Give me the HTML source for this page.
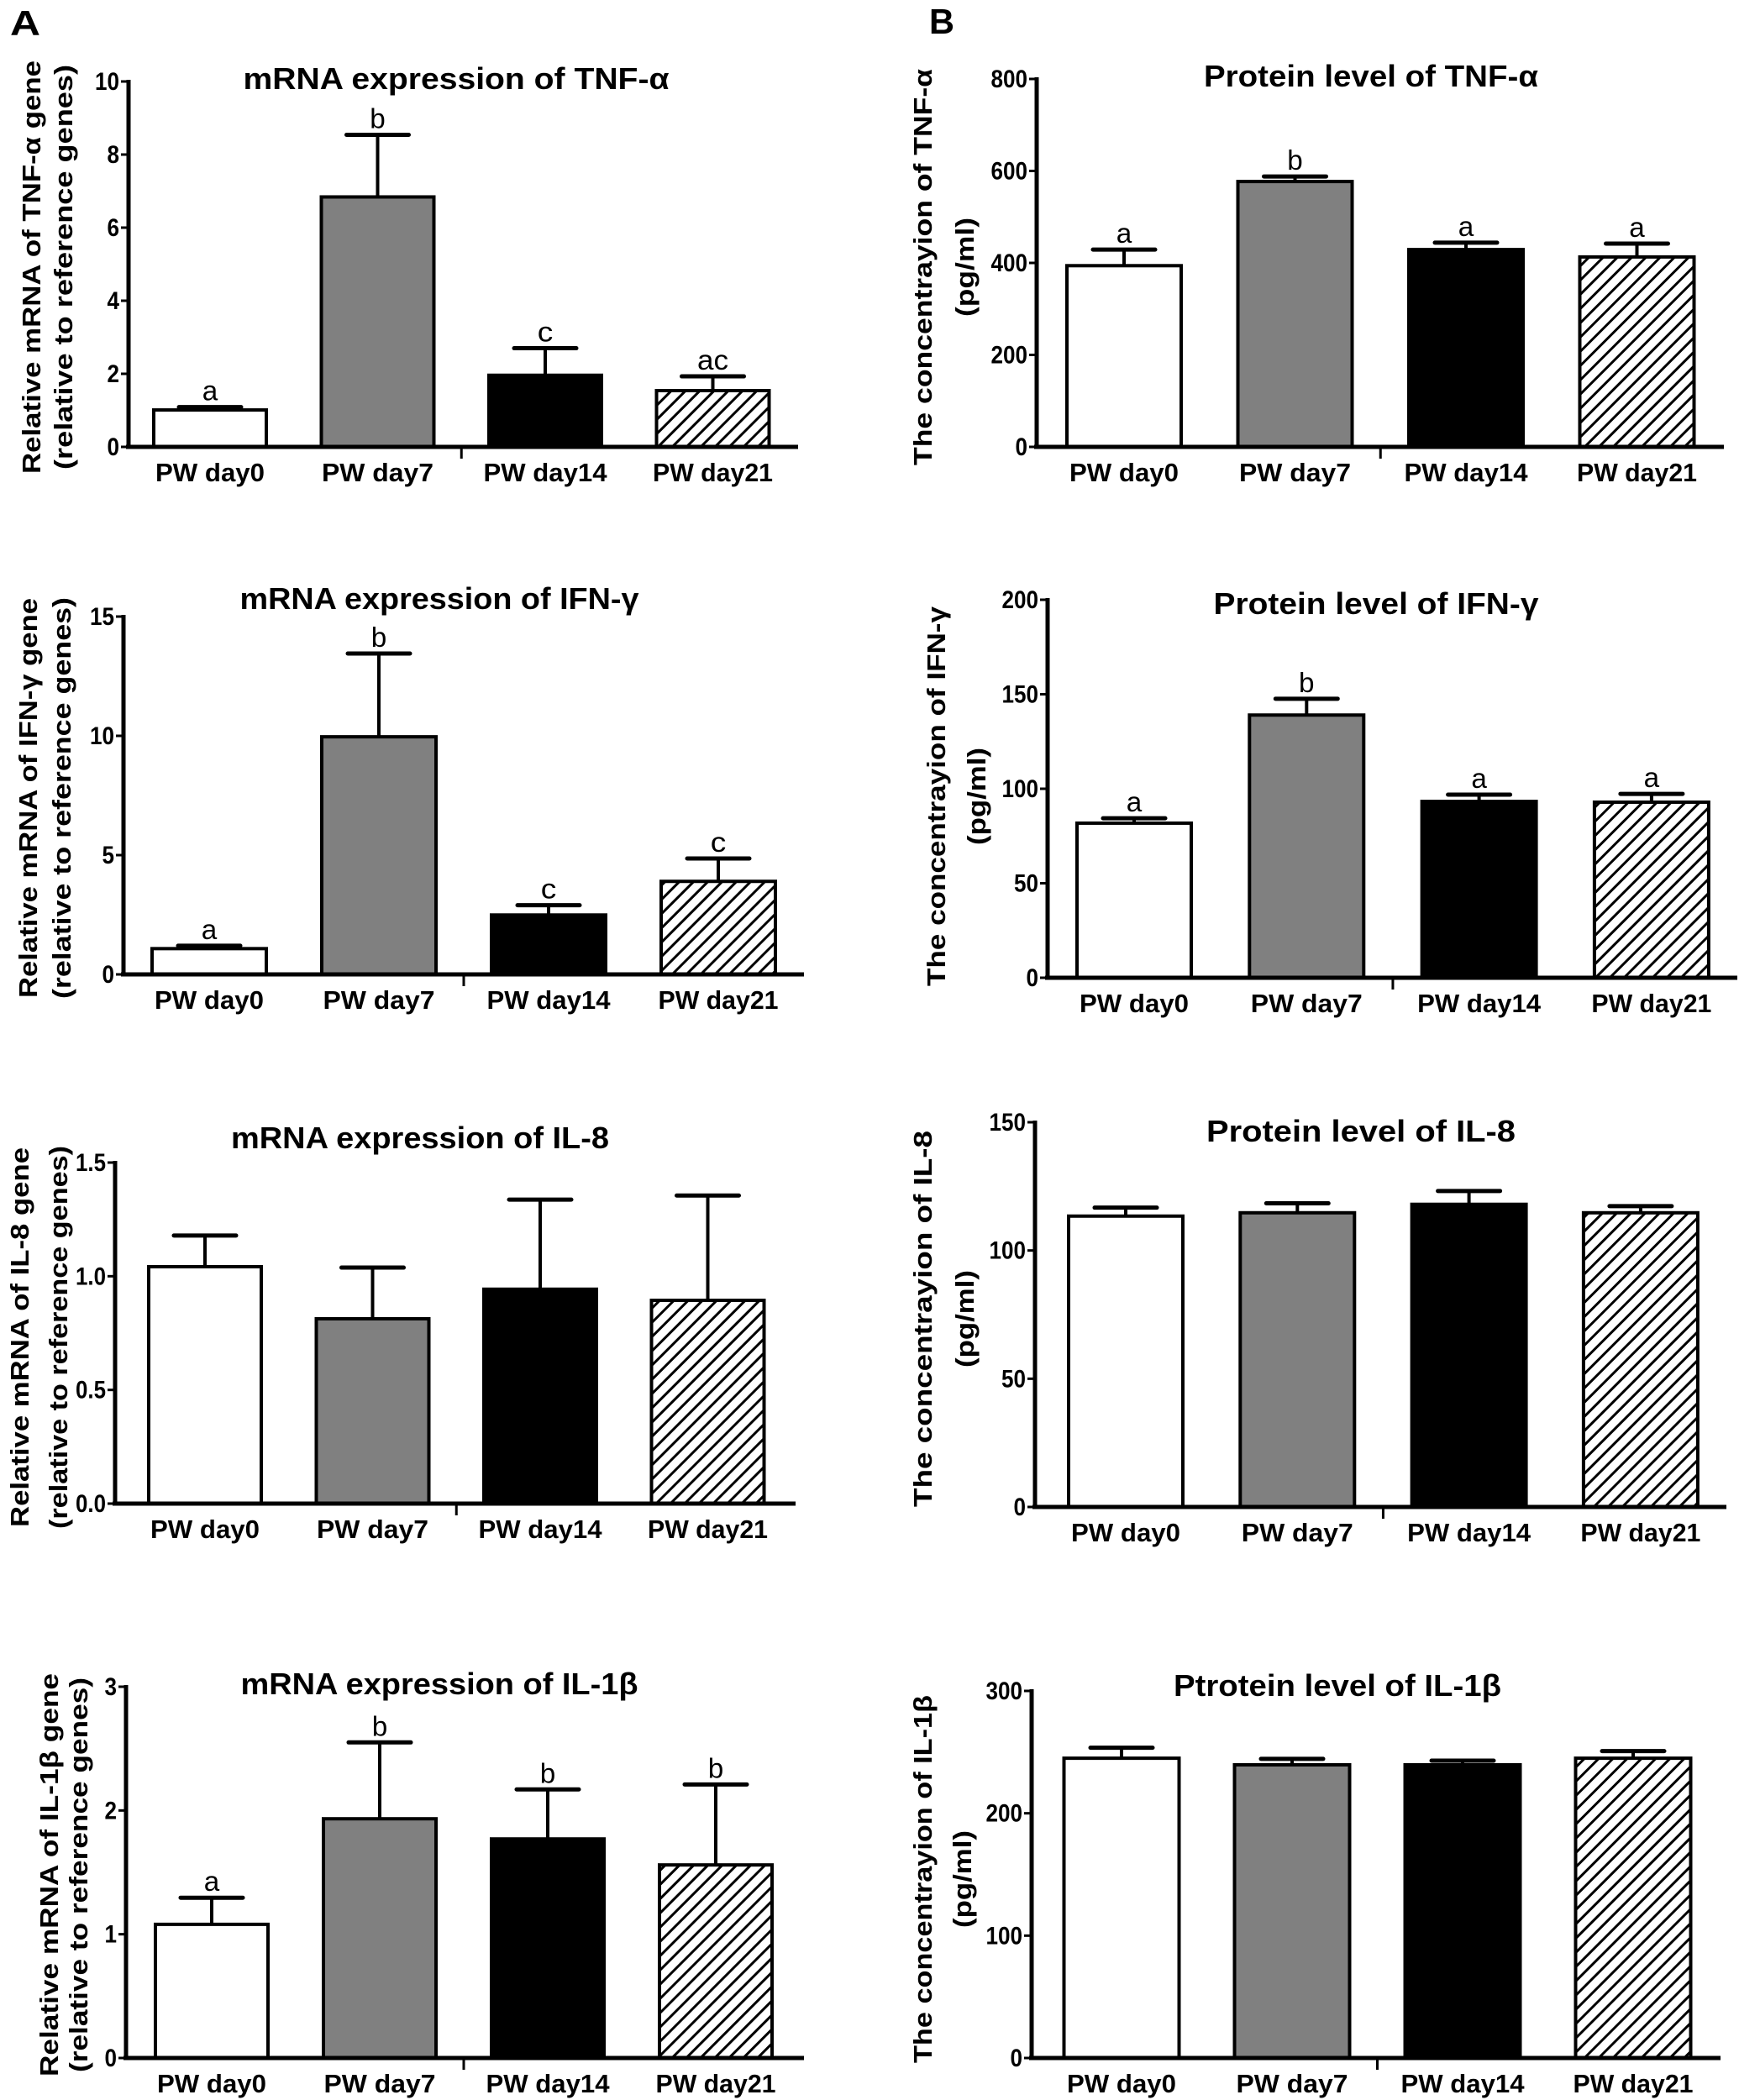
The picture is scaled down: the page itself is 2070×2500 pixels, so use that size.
<!DOCTYPE html>
<html><head><meta charset="utf-8"><style>
html,body{margin:0;padding:0;background:#fff;}
svg{display:block;}
text{font-family:"Liberation Sans",Arial,sans-serif;}
</style></head><body>
<svg id="fig" width="2070" height="2500" viewBox="0 0 2070 2500" xmlns="http://www.w3.org/2000/svg">
<defs>
<pattern id="hatch" patternUnits="userSpaceOnUse" width="12" height="12" patternTransform="rotate(45)">
<rect width="12" height="12" fill="#fff"/>
<line x1="6" y1="0" x2="6" y2="12" stroke="#000" stroke-width="3"/>
</pattern>
</defs>
<text x="12" y="42" font-size="42" font-weight="bold" textLength="36" lengthAdjust="spacingAndGlyphs">A</text>
<text x="1106" y="40" font-size="42" font-weight="bold" textLength="30" lengthAdjust="spacingAndGlyphs">B</text>
</svg>
<script>
const categories = ["PW day0", "PW day7", "PW day14", "PW day21"];

const tnfMrnaValues = [1.01, 6.84, 1.96, 1.54];
const tnfMrnaErrors = [1.09, 8.54, 2.70, 1.93];
const tnfMrnaLetters = ["a", "b", "c", "ac"];
const tnfMrnaTicks = [0, 2, 4, 6, 8, 10];
const tnfMrnaTickLabels = ["0", "2", "4", "6", "8", "10"];

const ifnMrnaValues = [1.08, 9.96, 2.49, 3.9];
const ifnMrnaErrors = [1.2, 13.45, 2.9, 4.86];
const ifnMrnaLetters = ["a", "b", "c", "c"];
const ifnMrnaTicks = [0, 5, 10, 15];
const ifnMrnaTickLabels = ["0", "5", "10", "15"];

const il8MrnaValues = [1.042, 0.813, 0.943, 0.894];
const il8MrnaErrors = [1.179, 1.038, 1.337, 1.355];
const il8MrnaLetters = ["", "", "", ""];
const il8MrnaTicks = [0, 0.5, 1.0, 1.5];
const il8MrnaTickLabels = ["0.0", "0.5", "1.0", "1.5"];

const il1bMrnaValues = [1.08, 1.933, 1.77, 1.56];
const il1bMrnaErrors = [1.295, 2.55, 2.17, 2.21];
const il1bMrnaLetters = ["a", "b", "b", "b"];
const il1bMrnaTicks = [0, 1, 2, 3];
const il1bMrnaTickLabels = ["0", "1", "2", "3"];

const tnfProtValues = [394, 577, 429, 413];
const tnfProtErrors = [429, 588, 444, 442];
const tnfProtLetters = ["a", "b", "a", "a"];
const tnfProtTicks = [0, 200, 400, 600, 800];
const tnfProtTickLabels = ["0", "200", "400", "600", "800"];

const ifnProtValues = [81.8, 139, 93.3, 92.9];
const ifnProtErrors = [84.4, 147.6, 96.9, 97.3];
const ifnProtLetters = ["a", "b", "a", "a"];
const ifnProtTicks = [0, 50, 100, 150, 200];
const ifnProtTickLabels = ["0", "50", "100", "150", "200"];

const il8ProtValues = [113.4, 114.7, 118, 114.7];
const il8ProtErrors = [116.7, 118.4, 123.2, 117.3];
const il8ProtLetters = ["", "", "", ""];
const il8ProtTicks = [0, 50, 100, 150];
const il8ProtTickLabels = ["0", "50", "100", "150"];

const il1bProtValues = [245, 239.6, 239.6, 245];
const il1bProtErrors = [253.6, 244.5, 243, 250.8];
const il1bProtLetters = ["", "", "", ""];
const il1bProtTicks = [0, 100, 200, 300];
const il1bProtTickLabels = ["0", "100", "200", "300"];

const fills = ["#ffffff", "#808080", "#000000", "url(#hatch)"];

const panels = [
 {id:"tnf-mrna", title:"mRNA expression of TNF-α", titleX:543, titleY:106, titleW:507,
  yt1:"Relative mRNA of TNF-α gene", yt2:"(relative to reference genes)", ytY:318, yt1X:37, yt2X:75, yt1W:492, yt2W:482,
  ax:153, y0:532, yTop:97, xEnd:950, bStart:250, bStep:199.5, bW:134,
  values:tnfMrnaValues, errors:tnfMrnaErrors, letters:tnfMrnaLetters, ticks:tnfMrnaTicks, tickLabels:tnfMrnaTickLabels},
 {id:"ifn-mrna", title:"mRNA expression of IFN-γ", titleX:523, titleY:725, titleW:475,
  yt1:"Relative mRNA of  IFN-γ gene", yt2:"(relative to reference genes)", ytY:950, yt1X:33, yt2X:73, yt1W:476, yt2W:478,
  ax:147, y0:1160, yTop:734, xEnd:957, bStart:249, bStep:202, bW:136,
  values:ifnMrnaValues, errors:ifnMrnaErrors, letters:ifnMrnaLetters, ticks:ifnMrnaTicks, tickLabels:ifnMrnaTickLabels},
 {id:"il8-mrna", title:"mRNA expression of IL-8", titleX:500, titleY:1367, titleW:450,
  yt1:"Relative mRNA of  IL-8 gene", yt2:"(relative to reference genes)", ytY:1592, yt1X:23, yt2X:69, yt1W:452, yt2W:456,
  ax:137, y0:1790, yTop:1384, xEnd:947, bStart:244, bStep:199.5, bW:134,
  values:il8MrnaValues, errors:il8MrnaErrors, letters:il8MrnaLetters, ticks:il8MrnaTicks, tickLabels:il8MrnaTickLabels},
 {id:"il1b-mrna", title:"mRNA expression of IL-1β", titleX:523, titleY:2017, titleW:473,
  yt1:"Relative mRNA of  IL-1β  gene", yt2:"(relative to reference genes)", ytY:2232, yt1X:58, yt2X:93, yt1W:480, yt2W:470,
  ax:150, y0:2450, yTop:2008, xEnd:957, bStart:252, bStep:200, bW:134,
  values:il1bMrnaValues, errors:il1bMrnaErrors, letters:il1bMrnaLetters, ticks:il1bMrnaTicks, tickLabels:il1bMrnaTickLabels},
 {id:"tnf-protein", title:"Protein level of TNF-α", titleX:1632, titleY:103, titleW:398,
  yt1:"The concentrayion of TNF-α", yt2:"(pg/ml)", ytY:318, yt1X:1098, yt2X:1148, yt1W:472, yt2W:118,
  ax:1234, y0:532, yTop:94, xEnd:2052, bStart:1338, bStep:203.5, bW:136,
  values:tnfProtValues, errors:tnfProtErrors, letters:tnfProtLetters, ticks:tnfProtTicks, tickLabels:tnfProtTickLabels},
 {id:"ifn-protein", title:"Protein level of  IFN-γ", titleX:1638, titleY:731, titleW:387,
  yt1:"The concentrayion of IFN-γ", yt2:"(pg/ml)", ytY:948, yt1X:1114, yt2X:1162, yt1W:452, yt2W:116,
  ax:1247, y0:1164, yTop:714, xEnd:2068, bStart:1350, bStep:205.3, bW:136,
  values:ifnProtValues, errors:ifnProtErrors, letters:ifnProtLetters, ticks:ifnProtTicks, tickLabels:ifnProtTickLabels},
 {id:"il8-protein", title:"Protein level of IL-8", titleX:1620, titleY:1359, titleW:368,
  yt1:"The concentrayion of IL-8", yt2:"(pg/ml)", ytY:1570, yt1X:1098, yt2X:1148, yt1W:448, yt2W:116,
  ax:1232, y0:1794, yTop:1336, xEnd:2055, bStart:1340, bStep:204.3, bW:136,
  values:il8ProtValues, errors:il8ProtErrors, letters:il8ProtLetters, ticks:il8ProtTicks, tickLabels:il8ProtTickLabels},
 {id:"il1b-protein", title:"Ptrotein level of  IL-1β", titleX:1592, titleY:2019, titleW:390,
  yt1:"The concentrayion of IL-1β", yt2:"(pg/ml)", ytY:2237, yt1X:1098, yt2X:1145, yt1W:438, yt2W:116,
  ax:1228, y0:2450, yTop:2013, xEnd:2048, bStart:1335, bStep:203, bW:137,
  values:il1bProtValues, errors:il1bProtErrors, letters:il1bProtLetters, ticks:il1bProtTicks, tickLabels:il1bProtTickLabels}
];

const labelW = [130, 133, 147, 143];
const NS = "http://www.w3.org/2000/svg";
const svg = document.getElementById("fig");

function mk(parent, tag, attrs, txt) {
  const el = document.createElementNS(NS, tag);
  for (const k in attrs) el.setAttribute(k, attrs[k]);
  if (txt !== undefined) el.textContent = txt;
  parent.appendChild(el);
  return el;
}

panels.forEach(function (p) {
  const g = mk(svg, "g", {});
  
  
  const maxT = p.ticks[p.ticks.length - 1];
  const ys = function (v) { return p.y0 - (v / maxT) * (p.y0 - p.yTop); };
  const xc = function (i) { return p.bStart + i * p.bStep; };

  const title = mk(g, "text", {x:p.titleX, y:p.titleY, "font-size":36, "font-weight":"bold", "text-anchor":"middle", textLength:p.titleW, lengthAdjust:"spacingAndGlyphs"}, p.title);
  
  

  const t1 = mk(g, "text", {x:0, y:0, transform:"translate(" + (p.yt1X + 11) + "," + p.ytY + ") rotate(-90)", "font-size":31, "font-weight":"bold", "text-anchor":"middle", textLength:p.yt1W, lengthAdjust:"spacingAndGlyphs"}, p.yt1);
  
  
  const t2 = mk(g, "text", {x:0, y:0, transform:"translate(" + (p.yt2X + 11) + "," + p.ytY + ") rotate(-90)", "font-size":31, "font-weight":"bold", "text-anchor":"middle", textLength:p.yt2W, lengthAdjust:"spacingAndGlyphs"}, p.yt2);
  
  

  p.values.forEach(function (v, i) {
    const x0 = xc(i) - p.bW / 2;
    const top = ys(v);
    const bar = mk(g, "rect", {x:x0, y:top, width:p.bW, height:p.y0 - top, fill:fills[i], stroke:"#000", "stroke-width":4});
    
    
    const ey = ys(p.errors[i]);
    const stem = mk(g, "line", {x1:xc(i), y1:top, x2:xc(i), y2:ey, stroke:"#000", "stroke-width":4});
    
    
    const cap = mk(g, "line", {x1:xc(i) - 37, y1:ey, x2:xc(i) + 37, y2:ey, stroke:"#000", "stroke-width":5, "stroke-linecap":"round"});
    
    
    if (p.letters[i]) {
      const lt = mk(g, "text", {x:xc(i), y:ey - 8, "font-size":33, "text-anchor":"middle", textLength:p.letters[i].length * 18.5, lengthAdjust:"spacingAndGlyphs"}, p.letters[i]);
      
      
    }
    const xl = mk(g, "text", {x:xc(i), y:p.y0 + 41, "font-size":31, "font-weight":"bold", "text-anchor":"middle", textLength:labelW[i], lengthAdjust:"spacingAndGlyphs"}, categories[i]);
    
    
  });

  const yAxis = mk(g, "line", {x1:p.ax, y1:p.yTop - 2, x2:p.ax, y2:p.y0 + 2, stroke:"#000", "stroke-width":5});
  
  
  const xAxis = mk(g, "line", {x1:p.ax - 3, y1:p.y0, x2:p.xEnd, y2:p.y0, stroke:"#000", "stroke-width":5});
  
  
  const midX = (xc(1) + xc(2)) / 2;
  const mt = mk(g, "line", {x1:midX, y1:p.y0, x2:midX, y2:p.y0 + 14, stroke:"#000", "stroke-width":3});
  
  

  p.ticks.forEach(function (t, j) {
    const y = ys(t);
    const tk = mk(g, "line", {x1:p.ax - 9, y1:y, x2:p.ax, y2:y, stroke:"#000", "stroke-width":3});
    
    
    const s = p.tickLabels[j];
    const w = (s.replace('.', '').length * 14.5) + (s.indexOf('.') >= 0 ? 7 : 0);
    const tl = mk(g, "text", {x:p.ax - 11, y:y + 10, "font-size":30, "font-weight":"bold", "text-anchor":"end", textLength:w, lengthAdjust:"spacingAndGlyphs"}, s);
    
    
  });
});
</script>
</body></html>
